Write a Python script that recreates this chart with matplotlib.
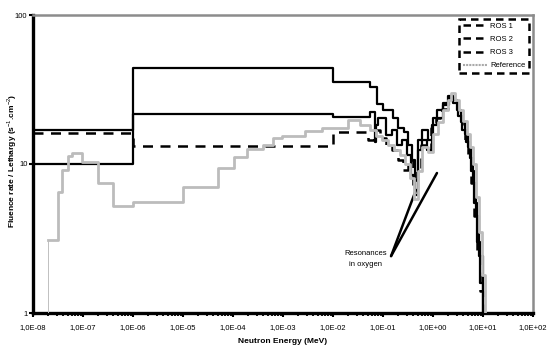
import matplotlib
matplotlib.use("Agg")
import matplotlib.pyplot as plt
from matplotlib.lines import Line2D
from matplotlib.ticker import FixedLocator, LogLocator, NullFormatter, NullLocator

plt.rcParams['font.family'] = ['Liberation Sans', 'DejaVu Sans']
plt.rcParams['mathtext.fontset'] = 'custom'
plt.rcParams['mathtext.rm'] = 'Liberation Sans'
plt.rcParams['mathtext.bf'] = 'Liberation Sans:bold'

# ---------------- data (step edges in MeV, fluence rate per lethargy) ----------------
ros1_E = [1e-8, 1e-6, 1e-2, 0.055, 0.0759, 0.1, 0.158, 0.2, 0.263, 0.316, 0.38, 0.437,
          0.501, 0.603, 0.794, 1.0, 1.202, 1.585, 1.995, 2.512, 3.02, 3.631, 4.365,
          5.012, 5.754, 6.607, 7.586, 8.71, 10.0]
ros1_F = [10, 44, 35.5, 32.9, 25.3, 23, 20.3, 17.4, 16.3, 13.4, 10.6, 7.8,
          14.5, 16.9, 14.5, 20.3, 23, 25.7, 28.6, 27, 23, 19, 16,
          13, 9, 5.5, 3.0, 1.6, 0.5]

ros2_E = [1e-8, 1e-6, 1e-2, 0.055, 0.0692, 0.0724, 0.0794, 0.0871, 0.115, 0.151, 0.191,
          0.24, 0.302, 0.363, 0.437, 0.501, 0.603, 0.759, 0.955, 1.202, 1.585, 2.089,
          2.512, 3.162, 3.802, 4.571, 5.495, 6.31, 7.244, 8.318, 9.8]
ros2_F = [16.9, 21.7, 20.7, 22.3, 14, 18.3, 20.3, 20.3, 15.7, 16.9, 13.4,
          14.5, 11.5, 8.4, 6.2, 12.4, 14.5, 12.4, 18.3, 20.3, 24.9, 27.8,
          25.5, 21, 17, 14, 11, 7.5, 4.5, 2.4, 0.5]

ros3_E = [1e-8, 1e-6, 1e-2, 0.0501, 0.0661, 0.0871, 0.115, 0.151, 0.2, 0.251, 0.316,
          0.398, 0.479, 0.575, 0.724, 0.912, 1.148, 1.514, 1.995, 2.512, 3.162, 3.802,
          4.365, 5.012, 5.754, 6.607, 7.586, 8.71, 10.0]
ros3_F = [16.2, 13.2, 16.3, 14.5, 16.9, 14.9, 13.4, 12.4, 10.6, 9.1, 10.6,
          7.2, 9.1, 13.4, 12.4, 17.4, 20.3, 23.5, 28.2, 26, 21.5, 17.5,
          14.5, 11, 7.5, 4.5, 2.6, 1.4, 0.5]

ref_E = [2.0e-8, 2.0e-8, 3.16e-8, 3.8e-8, 5.0e-8, 6.0e-8, 9.5e-8, 2.0e-7, 4.0e-7, 1.0e-6,
         1.0e-5, 5.0e-5, 1.05e-4, 1.9e-4, 4.0e-4, 6.3e-4, 9.5e-4, 2.75e-3, 6.0e-3, 2.0e-2,
         3.47e-2, 0.055, 0.0724, 0.0955, 0.126, 0.166, 0.219, 0.275, 0.347, 0.417, 0.501,
         0.603, 0.794, 1.0, 1.259, 1.585, 1.995, 2.291, 2.754, 3.311, 3.981, 4.786,
         5.495, 6.31, 7.244, 8.318, 9.55, 11.0]
ref_F = [1.0, 3.1, 6.5, 9.1, 11.3, 11.9, 10.3, 7.5, 5.2, 5.56,
         7.0, 9.4, 11.1, 12.6, 13.4, 14.9, 15.4, 16.6, 17.4, 19.7,
         18.3, 17.0, 15.4, 14.5, 13.4, 12.4, 11.5, 10.0, 8.0, 5.8, 9.0,
         13.0, 12.0, 16.0, 19.0, 23.0, 27.0, 30.0, 27.0, 23.0, 19.5, 16.0,
         13.0, 10.0, 6.0, 3.5, 1.8, 0.5]

series_labels = ["ROS 1", "ROS 2", "ROS 3", "Reference"]
x_ticks = [1e-8, 1e-7, 1e-6, 1e-5, 1e-4, 1e-3, 1e-2, 1e-1, 1e0, 1e1, 1e2]
x_tick_labels = ["1,0E-08", "1,0E-07", "1,0E-06", "1,0E-05", "1,0E-04", "1,0E-03",
                 "1,0E-02", "1,0E-01", "1,0E+00", "1,0E+01", "1,0E+02"]
y_ticks = [1, 10, 100]
y_tick_labels = ["1", "10", "100"]

# annotation anchor (data coords)
annot_text_xy = (0.0457, 2.3)
annot_from = (0.145, 2.41)
annot_targets = [(0.457, 6.7), (1.2, 8.7)]

# ---------------- figure ----------------
fig = plt.figure(figsize=(5.49, 3.49), dpi=100)
ax = fig.add_axes([33/549, 1 - 313/349, 500/549, 298/349])

ax.plot(ros1_E, ros1_F, drawstyle='steps-post', color='black', lw=1.6, zorder=3)
ax.plot(ros2_E, ros2_F, drawstyle='steps-post', color='black', lw=1.6, zorder=3)
ax.plot(ros3_E, ros3_F, drawstyle='steps-post', color='black', lw=1.8,
        ls=(0, (4, 3)), zorder=3)
ax.plot(ref_E[:2], ref_F[:2], color='#c0c0c0', lw=0.7, zorder=4)
ax.plot(ref_E[1:], ref_F[1:], drawstyle='steps-post', color='#bcbcbc', lw=2.0, zorder=4)

ax.set_xscale('log')
ax.set_yscale('log')
ax.set_xlim(1e-8, 1e2)
ax.set_ylim(1, 100)

ax.xaxis.set_major_locator(FixedLocator(x_ticks))
ax.set_xticklabels(x_tick_labels)
ax.xaxis.set_minor_locator(LogLocator(base=10, subs=range(2, 10), numticks=30))
ax.xaxis.set_minor_formatter(NullFormatter())
ax.yaxis.set_major_locator(FixedLocator(y_ticks))
ax.set_yticklabels(y_tick_labels)
ax.yaxis.set_minor_locator(NullLocator())

ax.tick_params(axis='x', which='major', direction='out', length=3, width=1.5,
               labelsize=5.5, pad=5)
ax.tick_params(axis='x', which='minor', direction='out', length=2, width=1.3)
ax.tick_params(axis='y', which='major', direction='out', length=3, width=1.5,
               labelsize=5.5, pad=1)

for s in ['left', 'bottom']:
    ax.spines[s].set_linewidth(2.4)
    ax.spines[s].set_color('black')
for s in ['top', 'right']:
    ax.spines[s].set_linewidth(1.8)
    ax.spines[s].set_color('#8c8c8c')

ax.set_xlabel("Neutron Energy (MeV)", fontsize=6, fontweight='bold', labelpad=5)
ax.set_ylabel(r"Fluence rate / Lethargy (s$^{-1}$.cm$^{-2}$)", fontsize=6,
              fontweight='bold')
ax.yaxis.set_label_coords(-0.027, 0.51)

# annotation
ax.text(annot_text_xy[0], annot_text_xy[1], "Resonances\nin oxygen", fontsize=5.5,
        ha='center', va='center', linespacing=1.9)
for tgt in annot_targets:
    ax.annotate("", xy=tgt, xytext=annot_from,
                arrowprops=dict(arrowstyle='-', lw=1.8, color='black',
                                shrinkA=0, shrinkB=0))

# legend
handles = [Line2D([], [], color='black', lw=1.8, ls=(0, (3, 2))),
           Line2D([], [], color='black', lw=1.8, ls=(0, (3, 2))),
           Line2D([], [], color='black', lw=1.8, ls=(0, (3, 2))),
           Line2D([], [], color='#a9a9a9', lw=1.5, ls=(0, (1, 0.5)))]
leg = ax.legend(handles, series_labels, loc='upper right', bbox_to_anchor=(0.992, 0.987),
                borderaxespad=0, fontsize=5.5, handlelength=3.2, handletextpad=0.3,
                labelspacing=0.75, fancybox=False, framealpha=1, borderpad=0.5)
fr = leg.get_frame()
fr.set_edgecolor('black')
fr.set_linewidth(1.8)
fr.set_linestyle((0, (3, 2)))

fig.savefig("out.png", dpi=100)
